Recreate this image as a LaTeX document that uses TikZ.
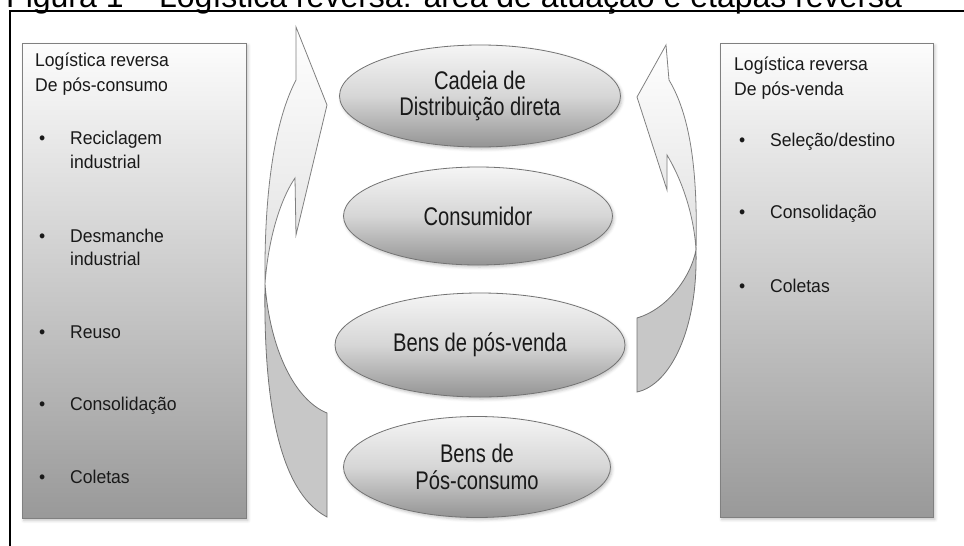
\documentclass[tikz,border=0pt]{standalone}
\usepackage{fontspec}
\setmainfont{Liberation Sans}
\newfontfamily\boxfont[FakeStretch=0.95]{Liberation Sans}
\newfontfamily\ellfont[FakeStretch=0.79]{Liberation Sans}
\usetikzlibrary{shapes.geometric,shadows.blur}
\begin{document}
\begin{tikzpicture}[x=1pt,y=-1pt,
  frameline/.style={line width=1.8pt,draw=black},
  panel/.style={draw=black!50,line width=0.8pt,top color=black!1,bottom color=black!40,
    anchor=north west,inner sep=0pt,
    blur shadow={shadow xshift=1.5pt,shadow yshift=-2pt,shadow blur radius=3pt,shadow opacity=25}},
  stage/.style={ellipse,draw=black!55,line width=0.8pt,top color=black!4,bottom color=black!42,
    middle color=black!16,inner sep=0pt,align=center,text=black!90,
    font=\ellfont\fontsize{25.5}{26.6}\selectfont,
    blur shadow={shadow xshift=1.5pt,shadow yshift=-2pt,shadow blur radius=3pt,shadow opacity=25}},
  boxtext/.style={anchor=base west,inner sep=0pt,text=black!90,font=\boxfont\fontsize{18.5}{22}\selectfont},
  arrowfront/.style={draw=black!50,line width=0.8pt,top color=white,bottom color=black!12},
  arrowback/.style={draw=black!55,line width=0.8pt,fill=black!22}
]
\useasboundingbox (0,0) rectangle (964,546);
\clip (0,0) rectangle (964,546);

% title (cut at the top, as in the reference)
\node[anchor=base west,inner sep=0pt,font=\fontsize{32}{38}\selectfont] (title) at (6,7)
  {Figura 1 – Logística reversa: área de atuação e etapas reversa};
\draw[frameline] (10,546) -- (10,11) -- (964,11);

% side panels
\node[panel,minimum width=224pt,minimum height=475pt] (lbox) at (22,43) {};
\node[panel,minimum width=213pt,minimum height=474pt] (rbox) at (720,43) {};

% left panel text
\node[boxtext] (l1) at (35,66.7) {Logística reversa};
\node[boxtext] (l2) at (35,91.7) {De pós-consumo};
\node[boxtext] (lb1) at (39,144) {•};
\node[boxtext] (lt1) at (70,144) {Reciclagem};
\node[boxtext] (lt1b) at (70,168) {industrial};
\node[boxtext] (lb2) at (39,242) {•};
\node[boxtext] (lt2) at (70,242) {Desmanche};
\node[boxtext] (lt2b) at (70,265) {industrial};
\node[boxtext] (lb3) at (39,338) {•};
\node[boxtext] (lt3) at (70,338) {Reuso};
\node[boxtext] (lb4) at (39,410) {•};
\node[boxtext] (lt4) at (70,410) {Consolidação};
\node[boxtext] (lb5) at (39,483) {•};
\node[boxtext] (lt5) at (70,483) {Coletas};

% right panel text
\node[boxtext] (r1) at (734,70) {Logística reversa};
\node[boxtext] (r2) at (734,95) {De pós-venda};
\node[boxtext] (rb1) at (739,146) {•};
\node[boxtext] (rt1) at (770,146) {Seleção/destino};
\node[boxtext] (rb2) at (739,218) {•};
\node[boxtext] (rt2) at (770,218) {Consolidação};
\node[boxtext] (rb3) at (739,292) {•};
\node[boxtext] (rt3) at (770,292) {Coletas};

% left curved arrow
\path[arrowback] (265,284) .. controls (270,350) and (295,400) .. (327,413)
  -- (327,517) .. controls (285,495) and (263,420) .. (265,284) -- cycle;
\path[arrowfront] (265,284) .. controls (264,190) and (275,120) .. (296,80)
  -- (296,27) -- (327,105) -- (296,235) -- (295,178)
  .. controls (280,200) and (268,240) .. (265,284) -- cycle;

% right curved arrow
\path[arrowback] (696,250) .. controls (698,330) and (670,385) .. (637,392)
  -- (637,318) .. controls (665,310) and (690,280) .. (696,250) -- cycle;
\path[arrowfront] (696,250) .. controls (698,170) and (690,115) .. (669,80)
  -- (666,45) -- (637,97) -- (667,190) -- (667,155)
  .. controls (682,180) and (694,215) .. (696,250) -- cycle;

% stages
\node[stage,minimum width=281pt,minimum height=102pt] (e1) at (480,96) {Cadeia de\\Distribuição direta};
\node[stage,minimum width=269pt,minimum height=98pt] (e2) at (478,216) {Consumidor};
\node[stage,minimum width=290pt,minimum height=104pt] (e3) at (480,345) {Bens de pós-venda};
\node[stage,minimum width=267pt,minimum height=101pt] (e4) at (477,467) {Bens de\\Pós-consumo};
\end{tikzpicture}
\end{document}
